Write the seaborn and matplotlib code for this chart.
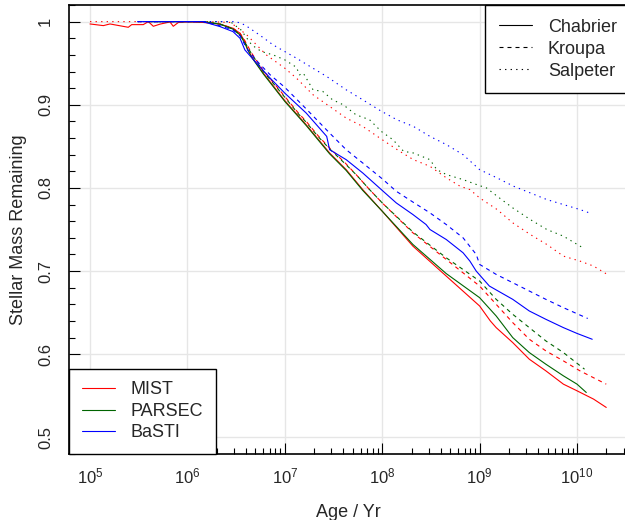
import numpy as np
import pandas as pd
import matplotlib
matplotlib.use("Agg")
import matplotlib.pyplot as plt
from matplotlib.lines import Line2D
from matplotlib.ticker import FixedLocator, MultipleLocator, LogLocator, NullFormatter
import seaborn as sns

# stellar evolution models / IMFs
models = ["MIST", "PARSEC", "BaSTI"]
imfs = ["Chabrier", "Kroupa", "Salpeter"]
model_colors = ["#ff0000", "#006400", "#0000ff"]

# values: log10(age / yr) and stellar mass remaining
mist_chabrier_logage = [5.0, 5.137, 5.205, 5.393, 5.428, 5.547, 5.599, 5.65, 5.719, 5.821, 5.855,
                        5.907, 5.993, 6.163, 6.335, 6.468, 6.54, 6.59, 6.62, 6.66, 6.78, 7.0,
                        7.22, 7.46, 7.63, 7.80, 8.0, 8.315, 8.657, 9.0, 9.11, 9.17, 9.34, 9.51,
                        9.68, 9.86, 10.0, 10.17, 10.30]
mist_chabrier_mass = [0.9972, 0.9952, 0.9972, 0.9932, 0.9964, 0.9964, 1.0, 0.9944, 0.997, 0.9996,
                      0.9944, 0.999, 0.9996, 0.999, 0.997, 0.992, 0.986, 0.976, 0.966, 0.958,
                      0.938, 0.905, 0.876, 0.842, 0.822, 0.798, 0.772, 0.730, 0.694, 0.658,
                      0.640, 0.632, 0.614, 0.594, 0.580, 0.564, 0.556, 0.546, 0.536]

mist_kroupa_logage = [5.49, 6.16, 6.335, 6.468, 6.54, 6.59, 6.66, 6.78, 6.93, 7.0, 7.14, 7.22,
                      7.34, 7.46, 7.62, 7.74, 7.87, 8.0, 8.315, 8.657, 9.0, 9.17, 9.34, 9.51,
                      9.68, 9.86, 10.03, 10.30]
mist_kroupa_mass = [1.0, 1.0, 0.997, 0.992, 0.986, 0.977, 0.962, 0.941, 0.920, 0.910, 0.890,
                    0.880, 0.863, 0.848, 0.830, 0.815, 0.798, 0.782, 0.746, 0.714, 0.682, 0.660,
                    0.638, 0.618, 0.604, 0.592, 0.580, 0.564]

mist_salpeter_logage = [5.0, 6.2, 6.44, 6.5, 6.61, 6.71, 6.81, 7.0, 7.12, 7.29, 7.46, 7.63, 7.80,
                        8.0, 8.18, 8.32, 8.49, 8.66, 8.8, 8.9, 9.0, 9.18, 9.34, 9.52, 9.69, 9.86,
                        10.03, 10.17, 10.31]
mist_salpeter_mass = [1.0, 1.0, 0.999, 0.994, 0.984, 0.972, 0.960, 0.944, 0.932, 0.912, 0.898,
                      0.884, 0.874, 0.858, 0.844, 0.834, 0.826, 0.812, 0.802, 0.798, 0.788,
                      0.774, 0.758, 0.744, 0.732, 0.718, 0.712, 0.706, 0.696]

parsec_chabrier_logage = [5.6, 6.16, 6.335, 6.468, 6.54, 6.59, 6.62, 6.66, 6.78, 7.0, 7.22, 7.46,
                          7.63, 7.80, 8.0, 8.315, 8.657, 9.0, 9.17, 9.34, 9.51, 9.68, 9.86, 10.0,
                          10.095]
parsec_chabrier_mass = [1.0, 1.0, 0.997, 0.991, 0.984, 0.974, 0.966, 0.957, 0.937, 0.904, 0.875,
                        0.841, 0.821, 0.797, 0.772, 0.732, 0.697, 0.668, 0.646, 0.620, 0.602,
                        0.588, 0.574, 0.564, 0.554]

parsec_kroupa_logage = [5.6, 6.16, 6.335, 6.468, 6.54, 6.59, 6.66, 6.78, 6.93, 7.0, 7.14, 7.22,
                        7.34, 7.46, 7.62, 7.74, 7.87, 8.0, 8.315, 8.657, 9.0, 9.17, 9.34, 9.51,
                        9.68, 9.86, 10.077]
parsec_kroupa_mass = [1.0, 1.0, 0.997, 0.991, 0.984, 0.975, 0.961, 0.940, 0.919, 0.909, 0.889,
                      0.879, 0.862, 0.847, 0.829, 0.815, 0.798, 0.782, 0.747, 0.716, 0.688,
                      0.666, 0.648, 0.632, 0.616, 0.602, 0.582]

parsec_salpeter_logage = [5.6, 6.44, 6.55, 6.66, 6.76, 6.88, 7.0, 7.12, 7.15, 7.19, 7.29, 7.39,
                          7.49, 7.6, 7.73, 7.87, 7.99, 8.11, 8.22, 8.32, 8.49, 8.56, 8.66, 8.83,
                          8.97, 9.07, 9.18, 9.34, 9.52, 9.69, 9.86, 10.06]
parsec_salpeter_mass = [1.0, 1.0, 0.990, 0.972, 0.964, 0.960, 0.954, 0.945, 0.936, 0.938, 0.918,
                        0.916, 0.906, 0.900, 0.888, 0.882, 0.868, 0.858, 0.844, 0.842, 0.834,
                        0.822, 0.816, 0.810, 0.804, 0.800, 0.790, 0.776, 0.762, 0.750, 0.742,
                        0.728]

basti_chabrier_logage = [5.49, 6.16, 6.335, 6.468, 6.54, 6.59, 6.62, 6.71, 6.85, 7.0, 7.22, 7.43,
                         7.46, 7.63, 7.80, 8.0, 8.144, 8.315, 8.45, 8.49, 8.657, 8.83, 8.9, 8.965,
                         9.1, 9.34, 9.51, 9.68, 9.86, 10.0, 10.156]
basti_chabrier_mass = [1.0, 1.0, 0.994, 0.988, 0.980, 0.966, 0.962, 0.950, 0.932, 0.914, 0.890,
                       0.862, 0.846, 0.834, 0.818, 0.797, 0.782, 0.768, 0.756, 0.750, 0.738,
                       0.722, 0.712, 0.700, 0.682, 0.666, 0.652, 0.642, 0.632, 0.625, 0.618]

basti_kroupa_logage = [5.49, 6.16, 6.335, 6.468, 6.54, 6.59, 6.62, 6.71, 6.85, 7.0, 7.22, 7.46,
                       7.63, 7.80, 8.0, 8.144, 8.315, 8.49, 8.657, 8.83, 8.965, 9.0, 9.17, 9.34,
                       9.51, 9.68, 9.86, 10.11]
basti_kroupa_mass = [1.0, 1.0, 0.995, 0.990, 0.983, 0.972, 0.966, 0.953, 0.936, 0.921, 0.895,
                     0.866, 0.846, 0.830, 0.811, 0.796, 0.783, 0.770, 0.756, 0.740, 0.720,
                     0.708, 0.696, 0.686, 0.676, 0.666, 0.656, 0.643]

basti_salpeter_logage = [5.49, 6.5, 6.59, 6.74, 6.88, 7.0, 7.12, 7.26, 7.43, 7.63, 7.80, 7.98,
                         8.15, 8.32, 8.49, 8.66, 8.83, 9.0, 9.18, 9.35, 9.52, 9.69, 9.86, 10.03,
                         10.15]
basti_salpeter_mass = [1.0, 1.0, 0.996, 0.984, 0.972, 0.964, 0.956, 0.946, 0.934, 0.918, 0.906,
                       0.893, 0.882, 0.874, 0.862, 0.852, 0.840, 0.822, 0.812, 0.802, 0.794,
                       0.786, 0.780, 0.774, 0.769]

x_ticks = [1e5, 1e6, 1e7, 1e8, 1e9, 1e10]
x_tick_labels = ["$10^{5}$", "$10^{6}$", "$10^{7}$", "$10^{8}$", "$10^{9}$", "$10^{10}$"]
y_ticks = [0.5, 0.6, 0.7, 0.8, 0.9, 1.0]
y_tick_labels = ["0.5", "0.6", "0.7", "0.8", "0.9", "1"]

curves = [
    ("MIST", "Chabrier", mist_chabrier_logage, mist_chabrier_mass),
    ("MIST", "Kroupa", mist_kroupa_logage, mist_kroupa_mass),
    ("MIST", "Salpeter", mist_salpeter_logage, mist_salpeter_mass),
    ("PARSEC", "Chabrier", parsec_chabrier_logage, parsec_chabrier_mass),
    ("PARSEC", "Kroupa", parsec_kroupa_logage, parsec_kroupa_mass),
    ("PARSEC", "Salpeter", parsec_salpeter_logage, parsec_salpeter_mass),
    ("BaSTI", "Chabrier", basti_chabrier_logage, basti_chabrier_mass),
    ("BaSTI", "Kroupa", basti_kroupa_logage, basti_kroupa_mass),
    ("BaSTI", "Salpeter", basti_salpeter_logage, basti_salpeter_mass),
]

frames = []
for model, imf, logage, mass in curves:
    frames.append(pd.DataFrame({"age": 10.0 ** np.array(logage), "mass": mass,
                                "model": model, "imf": imf}))
df = pd.concat(frames, ignore_index=True)

sns.set_style("white")
plt.rcParams["font.family"] = ["Liberation Sans", "DejaVu Sans"]
plt.rcParams["mathtext.fontset"] = "custom"
plt.rcParams["mathtext.rm"] = "Liberation Sans"
plt.rcParams["mathtext.it"] = "Liberation Sans:italic"

line_w = 0.8
dash_map = {"Chabrier": "", "Kroupa": (3.6, 3.6), "Salpeter": (1.2, 3.8)}

fig = plt.figure(figsize=(6.25, 5.2), dpi=100)
ax = fig.add_axes([69 / 625, 66 / 520, 558 / 625, 449 / 520])

sns.lineplot(data=df, x="age", y="mass", hue="model", style="imf",
             hue_order=models, style_order=imfs,
             palette=dict(zip(models, model_colors)), dashes=dash_map,
             estimator=None, sort=False, linewidth=line_w, legend=False, ax=ax)

ax.set_xscale("log")
ax.set_xlim(10 ** 4.7844, 10 ** 10.513)
ax.set_ylim(0.48, 1.02)

ax.xaxis.set_major_locator(FixedLocator(x_ticks))
ax.set_xticks(x_ticks, x_tick_labels)
ax.xaxis.set_minor_locator(LogLocator(base=10, subs=np.arange(2, 10), numticks=20))
ax.xaxis.set_minor_formatter(NullFormatter())
ax.set_yticks(y_ticks, y_tick_labels)
ax.yaxis.set_minor_locator(MultipleLocator(0.02))

ax.grid(True, which="major", color="#e6e6e6", linewidth=1.0)
ax.set_axisbelow(True)

ax.tick_params(which="both", direction="in", color="black", bottom=True, left=True,
               top=False, right=False)
ax.tick_params(which="major", length=8.0, width=0.8)
ax.tick_params(which="minor", length=4.2, width=0.8)
ax.tick_params(axis="x", which="major", labelsize=12, pad=9)
ax.tick_params(axis="y", which="major", labelsize=12, pad=11.5)
for lab in ax.get_yticklabels():
    lab.set_rotation(90)
    lab.set_va("center")
    lab.set_ha("right")

for side in ["left", "bottom", "top", "right"]:
    ax.spines[side].set_color("black")
    ax.spines[side].set_linewidth(1.2)

ax.set_xlabel("Age / Yr", fontsize=13, labelpad=12.5)
ax.set_ylabel("Stellar Mass Remaining", fontsize=13, labelpad=8)

# legend for IMF line styles (top right)
imf_handles = [Line2D([], [], color="black", lw=line_w, dashes=dash_map[i]) for i in imfs]
leg1 = ax.legend(imf_handles, imfs, loc="upper left", bbox_to_anchor=(416 / 558, 1.0),
                 borderaxespad=0, fontsize=13, frameon=True, fancybox=False,
                 edgecolor="black", framealpha=1, borderpad=0.75, handlelength=1.83,
                 handletextpad=0.9, labelspacing=0.28)
leg1.get_frame().set_linewidth(1.0)
ax.add_artist(leg1)

# legend for model colours (bottom left)
model_handles = [Line2D([], [], color=c, lw=line_w) for c in model_colors]
leg2 = ax.legend(model_handles, models, loc="lower left", borderaxespad=0, fontsize=13,
                 frameon=True, fancybox=False, edgecolor="black", framealpha=1,
                 borderpad=0.7, handlelength=1.83, handletextpad=0.9, labelspacing=0.25)
leg2.get_frame().set_linewidth(1.0)

fig.savefig("out.png", dpi=100)
